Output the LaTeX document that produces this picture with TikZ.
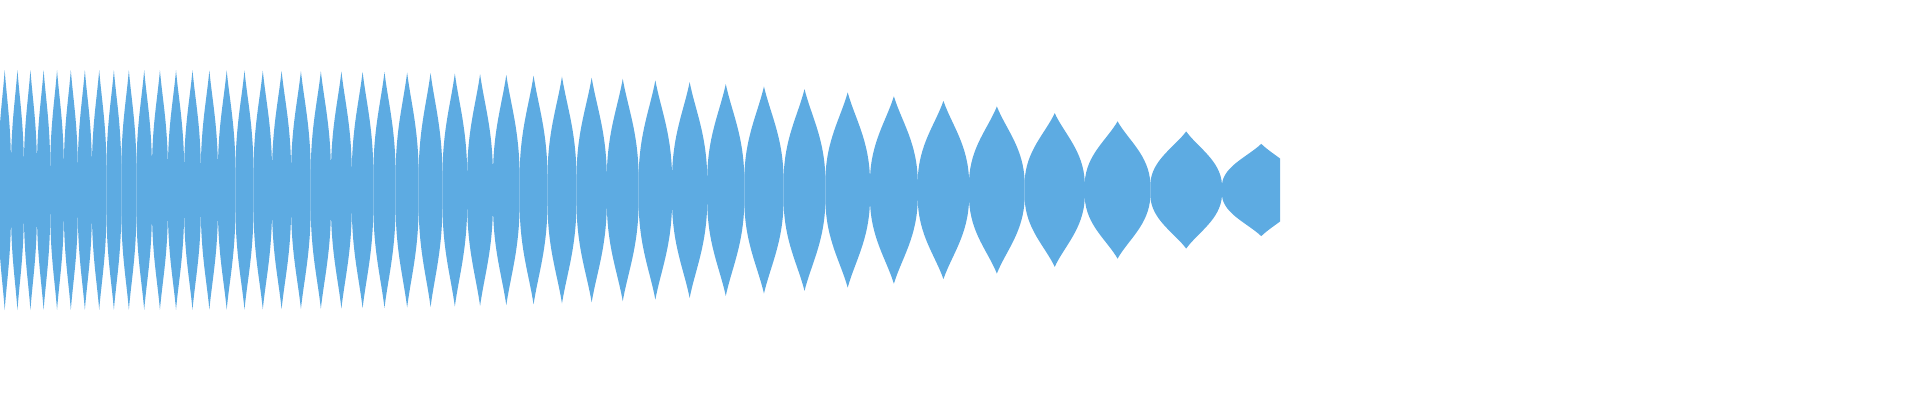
\documentclass[tikz,border=0pt]{standalone}
\definecolor{wavecol}{HTML}{5DABE2}
\begin{document}
\begin{tikzpicture}[x=1pt,y=1pt,
  wave/.style={fill=wavecol},
  declare function={
    nx(\n)=-ln(1-(\n-0.13)/53.333)/0.0015;
    AA(\t)=120-0.0368*(\t/100)^3;
    bb(\t)=24-0.015*\t;
  }]
\useasboundingbox (0,0) rectangle (1920,400);
\begin{scope}
\clip (0,0) rectangle (1280,400);
\foreach \n in {0,...,46}{
  \pgfmathsetmacro{\xa}{nx(\n)}
  \pgfmathsetmacro{\xb}{nx(\n+1)}
  \pgfmathsetmacro{\xm}{(\xa+\xb)/2}
  \pgfmathsetmacro{\w}{\xb-\xa}
  \pgfmathsetmacro{\ba}{bb(\xa)}
  \pgfmathsetmacro{\bbb}{bb(\xb)}
  \pgfmathsetmacro{\A}{AA(\xm)}
  \pgfmathsetmacro{\ha}{\A-\ba}
  \pgfmathsetmacro{\hb}{\A-\bbb}
  \fill[wave] (\xa,210+\ba)
    .. controls ({\xa+0.02*\w},{210+\ba+0.45*\ha}) and ({\xm-0.16*\w},{210+\A-0.3*\ha}) .. (\xm,210+\A)
    .. controls ({\xm+0.16*\w},{210+\A-0.3*\hb}) and ({\xb-0.02*\w},{210+\bbb+0.45*\hb}) .. (\xb,210+\bbb)
    -- (\xb,210-\bbb)
    .. controls ({\xb-0.02*\w},{210-\bbb-0.45*\hb}) and ({\xm+0.16*\w},{210-\A+0.3*\hb}) .. (\xm,210-\A)
    .. controls ({\xm-0.16*\w},{210-\A+0.3*\ha}) and ({\xa+0.02*\w},{210-\ba-0.45*\ha}) .. (\xa,210-\ba)
    -- cycle;
}
\end{scope}
\end{tikzpicture}
\end{document}
